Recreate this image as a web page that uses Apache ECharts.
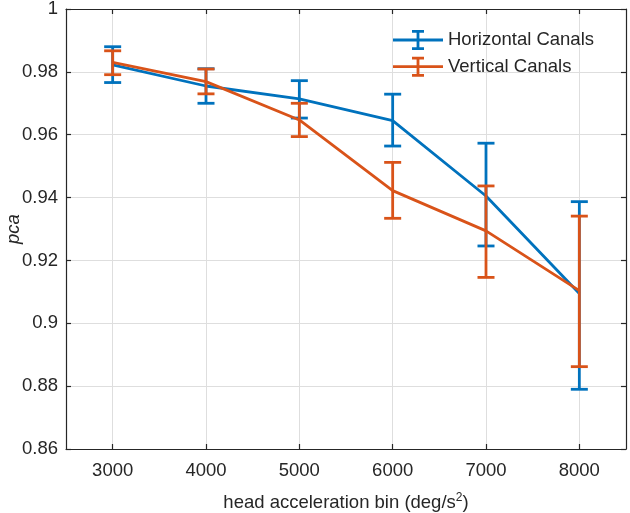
<!DOCTYPE html>
<html>
<head>
<meta charset="utf-8">
<script src="https://cdn.jsdelivr.net/npm/echarts@6/dist/echarts.min.js"></script>
<style>
html,body{margin:0;padding:0;background:#fff;}
#chart{width:630px;height:513px;}
</style>
</head>
<body>
<div id="chart"></div>
<script>
// ---- data ----
var bins = [3000, 4000, 5000, 6000, 7000, 8000];
var yTicks = [0.86, 0.88, 0.9, 0.92, 0.94, 0.96, 0.98, 1];

var horizMean = [0.9822, 0.9755, 0.9714, 0.9645, 0.9405, 0.9095];
var horizLow  = [0.9766, 0.9700, 0.9653, 0.9564, 0.9246, 0.8790];
var horizHigh = [0.9880, 0.9810, 0.9772, 0.9729, 0.9573, 0.9387];

var vertMean = [0.9830, 0.9769, 0.9647, 0.9422, 0.9294, 0.9104];
var vertLow  = [0.9791, 0.9730, 0.9594, 0.9334, 0.9146, 0.8862];
var vertHigh = [0.9867, 0.9809, 0.9700, 0.9512, 0.9437, 0.9341];

var seriesNames = ['Horizontal Canals', 'Vertical Canals'];
var colors = ['#0072BD', '#D95319'];

// ---- build ----
var FONT = '"Liberation Sans", Arial, Helvetica, sans-serif';
var TXT = '#262626';
var FS = 18.5;

function pairs(xs, ys) { return xs.map(function (x, i) { return [x, ys[i]]; }); }
function triples(xs, lo, hi) { return xs.map(function (x, i) { return [x, lo[i], hi[i]]; }); }

function errRender(color) {
  return function (params, api) {
    var x = api.value(0);
    var pLo = api.coord([x, api.value(1)]);
    var pHi = api.coord([x, api.value(2)]);
    var hw = 8.5;
    var st = { stroke: color, lineWidth: 2.8, fill: null };
    return {
      type: 'group',
      children: [
        { type: 'line', shape: { x1: pLo[0], y1: pLo[1], x2: pHi[0], y2: pHi[1] }, style: st },
        { type: 'line', shape: { x1: pLo[0] - hw, y1: pLo[1], x2: pLo[0] + hw, y2: pLo[1] }, style: st },
        { type: 'line', shape: { x1: pHi[0] - hw, y1: pHi[1], x2: pHi[0] + hw, y2: pHi[1] }, style: st }
      ]
    };
  };
}

var legendIcon = 'path://M0 8.6h50v2.8h-50Z M23.6 1.4h2.8v17.2h-2.8Z M19 0h12v2.8h-12Z M19 17.2h12v2.8h-12Z';

var axisLine = { show: true, lineStyle: { color: TXT, width: 1.2 } };
var axisTick = { show: true, inside: true, length: 5, lineStyle: { color: TXT, width: 1.2 } };

function xAxisDef(pos, showLabel) {
  return {
    type: 'value', position: pos, min: 2500, max: 8500,
    axisLine: axisLine,
    axisTick: Object.assign({ customValues: bins }, axisTick),
    axisLabel: {
      show: showLabel, customValues: bins, margin: 12, color: TXT, fontSize: FS, fontFamily: FONT,
      formatter: function (v) { return String(v); }
    },
    splitLine: { show: showLabel, lineStyle: { color: '#dedede', width: 1 } },
    name: showLabel ? '{a|head acceleration bin (deg/s}{b|2}{a|)}' : '',
    nameLocation: 'middle', nameGap: 43, nameMoveOverlap: false,
    nameTextStyle: {
      rich: {
        a: { fontSize: FS, fontFamily: FONT, color: TXT },
        b: { fontSize: 12, fontFamily: FONT, color: TXT, padding: [0, 0, 10, 0] }
      }
    }
  };
}

function yAxisDef(pos, showLabel) {
  return {
    type: 'value', position: pos, min: 0.86, max: 1, interval: 0.02,
    axisLine: axisLine,
    axisTick: axisTick,
    axisLabel: {
      show: showLabel, margin: 8, color: TXT, fontSize: FS, fontFamily: FONT,
      formatter: function (v) { return String(parseFloat(v.toFixed(2))); }
    },
    splitLine: { show: showLabel, lineStyle: { color: '#dedede', width: 1 } },
    name: showLabel ? 'pca' : '',
    nameLocation: 'middle', nameGap: 43, nameMoveOverlap: false,
    nameTextStyle: { fontSize: FS, fontStyle: 'italic', fontFamily: FONT, color: TXT }
  };
}

var series = [];
var means = [horizMean, vertMean], lows = [horizLow, vertLow], highs = [horizHigh, vertHigh];
for (var s = 0; s < 2; s++) {
  series.push({
    name: seriesNames[s], type: 'line', data: pairs(bins, means[s]),
    symbol: 'none', z: 2 + s * 2,
    lineStyle: { color: colors[s], width: 2.8 },
    itemStyle: { color: colors[s] },
    animation: false
  });
  series.push({
    name: seriesNames[s], type: 'custom', data: triples(bins, lows[s], highs[s]),
    renderItem: errRender(colors[s]), z: 3 + s * 2,
    encode: { x: 0, y: [1, 2] },
    itemStyle: { color: colors[s] },
    animation: false
  });
}

var chart = echarts.init(document.getElementById('chart'), null, { renderer: 'canvas' });
chart.setOption({
  backgroundColor: '#ffffff',
  animation: false,
  grid: { left: 66, right: 4, top: 9, bottom: 64, containLabel: false, outerBoundsMode: 'none' },
  legend: {
    data: seriesNames.map(function (n) { return { name: n, icon: legendIcon }; }),
    orient: 'vertical', left: 393, top: 30, padding: 0,
    itemWidth: 50, itemHeight: 20, itemGap: 6.7,
    textStyle: { fontSize: FS, fontFamily: FONT, color: TXT },
    selectedMode: false
  },
  xAxis: [xAxisDef('bottom', true), xAxisDef('top', false)],
  yAxis: [yAxisDef('left', true), yAxisDef('right', false)],
  series: series
});
</script>
</body>
</html>
